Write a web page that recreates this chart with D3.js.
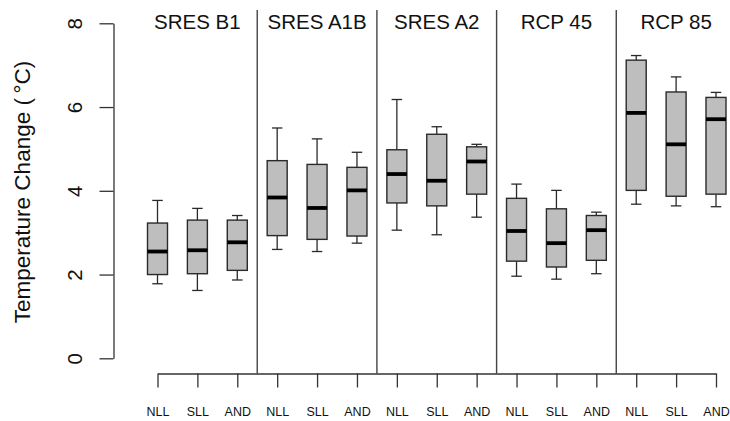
<!DOCTYPE html>
<html>
<head>
<meta charset="utf-8">
<script src="https://cdn.jsdelivr.net/npm/d3@7"></script>
<style>
  html, body { margin: 0; padding: 0; background: #fff; }
  svg { display: block; font-family: "Liberation Sans", Arial, Helvetica, sans-serif; }
</style>
</head>
<body>
<svg id="chart" width="730" height="421"></svg>
<script>
// Emission scenarios (panels) and regions (boxes within each panel)
const scenarios = ["SRES B1", "SRES A1B", "SRES A2", "RCP 45", "RCP 85"];
const regions = ["NLL", "SLL", "AND"];

// Five-number summaries, one entry per box, ordered scenario by scenario
const whiskerLow  = [1.78, 1.62, 1.87, 2.60, 2.55, 2.75, 3.06, 2.95, 3.37, 1.96, 1.89, 2.02, 3.68, 3.64, 3.62];
const quartileLow = [2.00, 2.02, 2.10, 2.93, 2.84, 2.92, 3.71, 3.64, 3.92, 2.32, 2.18, 2.34, 4.01, 3.87, 3.92];
const medians     = [2.55, 2.58, 2.77, 3.84, 3.59, 4.01, 4.40, 4.24, 4.70, 3.04, 2.75, 3.06, 5.86, 5.11, 5.71];
const quartileHigh= [3.23, 3.30, 3.30, 4.72, 4.63, 4.56, 4.98, 5.35, 5.05, 3.82, 3.57, 3.41, 7.12, 6.36, 6.23];
const whiskerHigh = [3.77, 3.58, 3.41, 5.50, 5.24, 4.92, 6.18, 5.53, 5.11, 4.16, 4.01, 3.49, 7.23, 6.72, 6.35];

const yTicks = [0, 2, 4, 6, 8];

const boxes = [];
scenarios.forEach((s, si) => {
  regions.forEach((r, ri) => {
    const i = si * regions.length + ri;
    boxes.push({
      pos: i + 1, scenario: s, region: r,
      lo: whiskerLow[i], q1: quartileLow[i], med: medians[i],
      q3: quartileHigh[i], hi: whiskerHigh[i]
    });
  });
});

const svg = d3.select("#chart");
svg.append("rect").attr("width", 730).attr("height", 421).attr("fill", "#fff");

const n = boxes.length;
const x = d3.scaleLinear().domain([1, n]).range([157.5, 716]);
const y = d3.scaleLinear().domain([0, 8]).range([358.3, 23.3]);

const plotTop = 10, plotBottom = 373.5, axisX = 113.5;
const boxW = 20, capW = 10.5;
const lineCol = "#2a2a2a";

// Panel separators
const seps = d3.range(1, scenarios.length).map(k => k * regions.length + 0.5);
svg.append("g").selectAll("line").data(seps).join("line")
  .attr("x1", d => x(d)).attr("x2", d => x(d))
  .attr("y1", plotTop).attr("y2", plotBottom)
  .attr("stroke", "#444").attr("stroke-width", 1.4);

// Panel titles
svg.append("g").selectAll("text").data(scenarios).join("text")
  .attr("x", (d, i) => x(i * regions.length + 2))
  .attr("y", 28.5)
  .attr("text-anchor", "middle")
  .attr("font-size", 20.5)
  .attr("fill", "#111")
  .text(d => d);

// Boxes
const g = svg.append("g").selectAll("g").data(boxes).join("g");
g.append("line")
  .attr("x1", d => x(d.pos)).attr("x2", d => x(d.pos))
  .attr("y1", d => y(d.hi)).attr("y2", d => y(d.q3))
  .attr("stroke", lineCol).attr("stroke-width", 1.3);
g.append("line")
  .attr("x1", d => x(d.pos)).attr("x2", d => x(d.pos))
  .attr("y1", d => y(d.q1)).attr("y2", d => y(d.lo))
  .attr("stroke", lineCol).attr("stroke-width", 1.3);
g.append("line")
  .attr("x1", d => x(d.pos) - capW / 2).attr("x2", d => x(d.pos) + capW / 2)
  .attr("y1", d => y(d.hi)).attr("y2", d => y(d.hi))
  .attr("stroke", lineCol).attr("stroke-width", 1.3);
g.append("line")
  .attr("x1", d => x(d.pos) - capW / 2).attr("x2", d => x(d.pos) + capW / 2)
  .attr("y1", d => y(d.lo)).attr("y2", d => y(d.lo))
  .attr("stroke", lineCol).attr("stroke-width", 1.3);
g.append("rect")
  .attr("x", d => x(d.pos) - boxW / 2).attr("width", boxW)
  .attr("y", d => y(d.q3)).attr("height", d => y(d.q1) - y(d.q3))
  .attr("fill", "#bebebe").attr("stroke", lineCol).attr("stroke-width", 1.4);
g.append("line")
  .attr("x1", d => x(d.pos) - boxW / 2).attr("x2", d => x(d.pos) + boxW / 2)
  .attr("y1", d => y(d.med)).attr("y2", d => y(d.med))
  .attr("stroke", "#000").attr("stroke-width", 3.8);

// Y axis
const yAxis = svg.append("g")
  .attr("transform", `translate(${axisX},0)`)
  .call(d3.axisLeft(y).tickValues(yTicks).tickSize(14).tickSizeOuter(0).tickFormat(d3.format("d")));
yAxis.select(".domain").attr("stroke", "#333").attr("stroke-width", 1.3);
yAxis.selectAll(".tick line").attr("stroke", "#333").attr("stroke-width", 1.3);
yAxis.selectAll(".tick text")
  .attr("x", null).attr("dy", null)
  .attr("transform", `translate(${74.5 - axisX},0) rotate(-90)`)
  .attr("text-anchor", "middle")
  .attr("dominant-baseline", "central")
  .attr("font-size", 20.5)
  .attr("fill", "#111");

// X axis
const xAxis = svg.append("g")
  .attr("transform", `translate(0,${plotBottom})`)
  .call(d3.axisBottom(x).tickValues(boxes.map(b => b.pos)).tickSize(14).tickSizeOuter(0)
    .tickFormat(p => boxes[p - 1].region));
xAxis.select(".domain").attr("stroke", "#333").attr("stroke-width", 1.3);
xAxis.selectAll(".tick line").attr("stroke", "#333").attr("stroke-width", 1.3);
xAxis.selectAll(".tick text")
  .attr("y", 42).attr("dy", null)
  .attr("font-size", 12.5)
  .attr("fill", "#111");

// Y axis title
svg.append("text")
  .attr("transform", "translate(22,192) rotate(-90)")
  .attr("text-anchor", "middle")
  .attr("dominant-baseline", "central")
  .attr("font-size", 22.5)
  .attr("fill", "#111")
  .text("Temperature Change (\u2009°C)");
</script>
</body>
</html>
